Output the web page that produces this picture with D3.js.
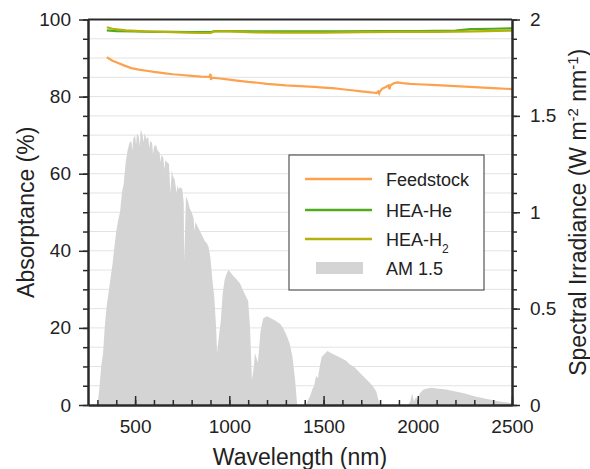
<!DOCTYPE html>
<html>
<head>
<meta charset="utf-8">
<script src="https://cdn.jsdelivr.net/npm/d3@7"></script>
<style>
  body { margin: 0; background: #fff; }
  svg { font-family: "Liberation Sans", Arial, sans-serif; }
  .grid line { stroke: #e3e3e3; stroke-width: 1; }
  .axis path, .axis line { stroke: #2a2a2a; }
  .axis path { stroke-width: 2; }
  .axis line { stroke-width: 1.5; }
  .axis text { font-size: 19px; fill: #222; }
</style>
</head>
<body>
<svg id="chart" width="590" height="469"></svg>
<script>
// AM 1.5 spectral irradiance, [wavelength nm, W m-2 nm-1]
const am15 = [
  [300,0],[310,0.08],[320,0.2],[330,0.27],[340,0.42],[350,0.52],[360,0.59],[370,0.66],
  [380,0.73],[390,0.82],[400,0.9],[410,0.96],[420,1.0],[430,1.1],[440,1.15],[450,1.26],
  [460,1.32],[470,1.36],[480,1.37],[485,1.32],[490,1.38],[500,1.4],[505,1.35],[510,1.41],
  [520,1.39],[525,1.34],[530,1.43],[540,1.4],[545,1.36],[550,1.41],[560,1.38],[570,1.39],
  [575,1.33],[580,1.37],[590,1.36],[595,1.3],[600,1.34],[610,1.35],[620,1.32],[630,1.31],
  [635,1.26],[640,1.3],[650,1.28],[656,1.22],[660,1.27],[670,1.26],[680,1.25],[687,1.1],
  [695,1.22],[700,1.19],[710,1.17],[720,1.1],[725,1.14],[730,1.12],[740,1.13],[750,1.12],
  [758,1.05],[760,0.75],[765,0.9],[770,1.08],[780,1.06],[790,1.02],[800,1.0],[810,0.97],
  [815,0.9],[820,0.95],[830,0.93],[840,0.91],[850,0.89],[860,0.87],[870,0.85],[880,0.84],
  [890,0.82],[900,0.76],[910,0.65],[920,0.56],[930,0.4],[935,0.27],[945,0.36],[955,0.44],
  [965,0.58],[975,0.65],[985,0.68],[995,0.7],[1005,0.69],[1020,0.67],[1040,0.65],
  [1057,0.63],[1070,0.6],[1085,0.57],[1100,0.54],[1110,0.4],[1120,0.13],[1130,0.2],
  [1136,0.27],[1145,0.24],[1152,0.22],[1165,0.38],[1180,0.45],[1200,0.46],[1220,0.45],
  [1240,0.44],[1255,0.43],[1270,0.42],[1285,0.4],[1300,0.37],[1320,0.32],[1335,0.25],
  [1349,0.13],[1360,0],[1405,0],[1415,0.02],[1430,0.05],[1440,0.08],[1450,0.1],[1460,0.15],
  [1470,0.14],[1480,0.2],[1490,0.25],[1500,0.26],[1510,0.27],[1520,0.28],[1540,0.27],
  [1560,0.26],[1580,0.25],[1600,0.24],[1620,0.23],[1640,0.21],[1660,0.2],[1680,0.18],
  [1700,0.16],[1720,0.14],[1740,0.12],[1760,0.1],[1780,0.07],[1790,0.03],[1800,0],
  [1950,0],[1960,0.02],[1970,0.06],[1980,0.02],[1990,0.04],[2000,0.03],[2010,0.06],
  [2030,0.08],[2050,0.085],[2070,0.09],[2100,0.085],[2150,0.08],[2200,0.07],[2250,0.06],
  [2300,0.045],[2350,0.035],[2400,0.025],[2450,0.015],[2500,0.01]
];

// absorptance (%) curves
const feedstock = [
  [350,90.2],[380,89.3],[410,88.7],[440,88.1],[480,87.4],[520,87.0],[560,86.7],[600,86.4],
  [650,86.1],[700,85.8],[750,85.6],[800,85.4],[850,85.2],[895,85.1],[900,85.9],[903,84.3],
  [906,84.9],[950,84.7],[1000,84.4],[1050,84.1],[1100,83.8],[1150,83.6],[1200,83.3],
  [1250,83.1],[1300,82.9],[1350,82.8],[1400,82.65],[1450,82.5],[1500,82.35],[1550,82.2],
  [1600,81.9],[1650,81.65],[1700,81.35],[1750,81.1],[1770,81.0],[1780,80.9],[1790,81.3],
  [1795,80.8],[1800,81.4],[1810,82.0],[1830,82.5],[1845,82.9],[1850,81.9],[1855,82.9],
  [1870,83.4],[1890,83.7],[1920,83.5],[1960,83.3],[2000,83.2],[2100,83.0],[2200,82.7],
  [2300,82.45],[2400,82.2],[2500,81.95]
];
const heaHe = [
  [350,97.2],[400,97.0],[500,96.9],[600,96.8],[700,96.8],[800,96.7],[900,96.7],[920,97.0],
  [1000,97.0],[1200,96.9],[1400,96.9],[1600,96.9],[1800,97.0],[2000,97.0],[2200,97.1],
  [2280,97.5],[2400,97.6],[2500,97.7]
];
const heaH2 = [
  [350,98.0],[380,97.6],[450,97.2],[550,96.9],[700,96.7],[850,96.5],[900,96.5],[920,96.9],
  [1000,96.9],[1100,96.7],[1300,96.6],[1500,96.6],[1700,96.7],[1900,96.8],[2100,96.8],
  [2300,96.9],[2500,97.1]
];

const xTicks = [500, 1000, 1500, 2000, 2500];
const yLeftTicks = [0, 20, 40, 60, 80, 100];
const yRightTicks = [0, 0.5, 1, 1.5, 2];

const svg = d3.select("#chart");
const margin = {top: 19.5, right: 78, bottom: 64, left: 88};
const width = 590 - margin.left - margin.right;
const height = 469 - margin.top - margin.bottom;
const g = svg.append("g").attr("transform", `translate(${margin.left},${margin.top})`);

const x = d3.scaleLinear().domain([250, 2500]).range([0, width]);
const yL = d3.scaleLinear().domain([0, 100]).range([height, 0]);
const yR = d3.scaleLinear().domain([0, 2]).range([height, 0]);

// grid every 5 %
g.append("g").attr("class", "grid")
  .selectAll("line")
  .data(d3.range(5, 100, 5))
  .join("line")
  .attr("x1", 0).attr("x2", width)
  .attr("y1", d => yL(d)).attr("y2", d => yL(d));

// AM 1.5 spectrum
g.append("path")
  .datum(am15)
  .attr("fill", "#d4d4d4")
  .attr("d", d3.area().x(d => x(d[0])).y0(height).y1(d => yR(d[1])));

const line = d3.line().x(d => x(d[0])).y(d => yL(d[1]));
const series = [
  {name: "Feedstock", data: feedstock, color: "#fca24f"},
  {name: "HEA-He", data: heaHe, color: "#4fab1f"},
  {name: "HEA-H2", data: heaH2, color: "#b4b10d"}
];
series.forEach(s => {
  g.append("path").datum(s.data)
    .attr("fill", "none").attr("stroke", s.color)
    .attr("stroke-width", 2.2).attr("d", line);
});

// minor ticks
g.append("g").attr("class", "axis")
  .call(d3.axisLeft(yL).tickValues(d3.range(0, 101, 5)).tickSize(5).tickFormat("").tickSizeOuter(0));
g.append("g").attr("class", "axis").attr("transform", `translate(${width},0)`)
  .call(d3.axisRight(yR).tickValues(d3.range(0, 2.01, 0.1)).tickSize(5).tickFormat("").tickSizeOuter(0));
g.append("g").attr("class", "axis").attr("transform", `translate(0,${height})`)
  .call(d3.axisBottom(x).tickValues(d3.range(300, 2501, 100)).tickSize(-5).tickFormat("").tickSizeOuter(0));

// major ticks
g.append("g").attr("class", "axis")
  .call(d3.axisLeft(yL).tickValues(yLeftTicks).tickSize(9).tickPadding(8).tickSizeOuter(0));
g.append("g").attr("class", "axis").attr("transform", `translate(${width},0)`)
  .call(d3.axisRight(yR).tickValues(yRightTicks).tickSize(8).tickPadding(10).tickSizeOuter(0)
    .tickFormat(d3.format("~g")));
g.append("g").attr("class", "axis").attr("transform", `translate(0,${height})`)
  .call(d3.axisBottom(x).tickValues(xTicks).tickSize(-9).tickPadding(15).tickSizeOuter(0)
    .tickFormat(d3.format("d")));

// top frame line
g.append("line").attr("x1", 0).attr("x2", width).attr("y1", 0).attr("y2", 0)
  .attr("stroke", "#2a2a2a").attr("stroke-width", 2);

// axis titles
svg.append("text")
  .attr("x", margin.left + width / 2).attr("y", 465)
  .attr("text-anchor", "middle").attr("font-size", 23).attr("fill", "#222")
  .text("Wavelength (nm)");
svg.append("text")
  .attr("transform", `translate(34,${margin.top + height / 2}) rotate(-90)`)
  .attr("text-anchor", "middle").attr("font-size", 23).attr("fill", "#222")
  .text("Absorptance (%)");
const rt = svg.append("text")
  .attr("transform", `translate(586,${margin.top + height / 2}) rotate(-90)`)
  .attr("text-anchor", "middle").attr("font-size", 23).attr("fill", "#222");
rt.append("tspan").text("Spectral Irradiance (W m");
rt.append("tspan").attr("font-size", 15).attr("baseline-shift", "super").text("-2");
rt.append("tspan").text(" nm");
rt.append("tspan").attr("font-size", 15).attr("baseline-shift", "super").text("-1");
rt.append("tspan").text(")");

// legend
const lg = svg.append("g");
lg.append("rect")
  .attr("x", 289).attr("y", 155).attr("width", 195).attr("height", 135)
  .attr("fill", "#fff").attr("stroke", "#555").attr("stroke-width", 1.2);
const rows = [179, 210, 239];
series.forEach((s, i) => {
  lg.append("line").attr("x1", 305).attr("x2", 372)
    .attr("y1", rows[i]).attr("y2", rows[i])
    .attr("stroke", s.color).attr("stroke-width", 2.5);
});
lg.append("rect").attr("x", 316).attr("y", 262).attr("width", 47).attr("height", 12)
  .attr("fill", "#d4d4d4");
const labels = [["Feedstock"], ["HEA-He"], ["HEA-H", "2"], ["AM 1.5"]];
const labelY = [186, 217, 246, 275];
labels.forEach((l, i) => {
  const t = lg.append("text").attr("x", 386).attr("y", labelY[i])
    .attr("font-size", 18).attr("fill", "#222").text(l[0]);
  if (l[1]) t.append("tspan").attr("font-size", 12).attr("baseline-shift", "sub").text(l[1]);
});
</script>
</body>
</html>
